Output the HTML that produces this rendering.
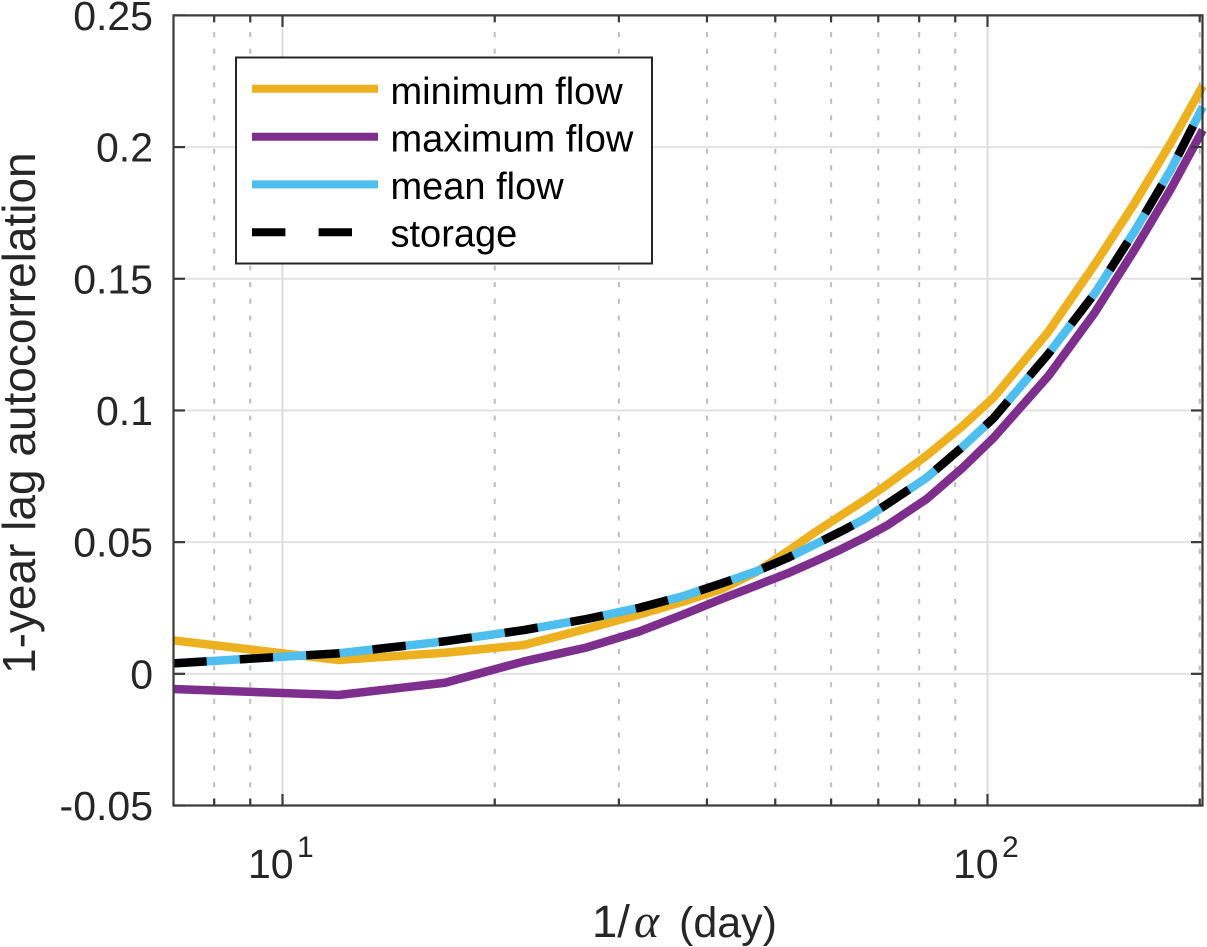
<!DOCTYPE html>
<html>
<head>
<meta charset="utf-8">
<title>1-year lag autocorrelation</title>
<style>
html,body{margin:0;padding:0;background:#fff;width:1207px;height:947px;overflow:hidden}
svg{display:block}
text{font-family:"Liberation Sans",sans-serif}
</style>
</head>
<body>
<svg id="chart" width="1207" height="947" viewBox="0 0 1207 947" xmlns="http://www.w3.org/2000/svg">
  <g id="grid"></g>
  <g id="series"></g>
  <g id="axes"></g>
  <text transform="translate(35,674) rotate(-90)" font-size="46" fill="#262626">1-year lag autocorrelation</text>
  <text y="937" font-size="45.5" fill="#262626"><tspan x="592">1/</tspan><tspan x="634" font-family="Liberation Serif" font-style="italic" font-size="48">α</tspan><tspan x="679" font-size="43">(day)</tspan></text>
  <g>
    <rect x="236" y="57.5" width="416" height="206" fill="#fff" stroke="#262626" stroke-width="2"/>
    <g>
      <line x1="252" x2="378" y1="88.7" y2="88.7" stroke="#EDB120" stroke-width="8"/>
      <text x="390.5" y="104" font-size="38" fill="#000">minimum flow</text>
    </g>
    <g>
      <line x1="252" x2="378" y1="136.7" y2="136.7" stroke="#7E2F8E" stroke-width="8"/>
      <text x="390.5" y="151.7" font-size="38" fill="#000">maximum flow</text>
    </g>
    <g>
      <line x1="252" x2="378" y1="184.4" y2="184.4" stroke="#4DBEEE" stroke-width="8"/>
      <text x="390.5" y="199" font-size="38" fill="#000">mean flow</text>
    </g>
    <g>
      <line x1="252" x2="378" y1="232.3" y2="232.3" stroke="#000" stroke-width="8" stroke-dasharray="33.4 33.2"/>
      <text x="390.5" y="246.5" font-size="38" fill="#000">storage</text>
    </g>
  </g>
</svg>
<script>
const days = [7,12,17,22,27,32,37,42,47,52,57,62,67,72,82,92,102,122,142,162,182,202];
const minimumFlow = [0.01272,0.00524,0.00800,0.01093,0.01712,0.02248,0.02737,0.0322,0.03865,0.04644,0.05384,0.06018,0.0660,0.0718,0.0829,0.0939,0.1049,0.1299,0.1555,0.1791,0.2016,0.2232];
const maximumFlow = [-0.00577,-0.00805,-0.00338,0.0047,0.0100,0.0160,0.0225,0.0285,0.0335,0.0381,0.0428,0.0473,0.0518,0.0563,0.0664,0.0780,0.0896,0.1131,0.1372,0.1614,0.1841,0.2065];
const meanFlow = [0.00395,0.00778,0.01234,0.01663,0.0208,0.0250,0.0295,0.03436,0.03892,0.04397,0.0492,0.0541,0.0589,0.0644,0.0745,0.0860,0.0971,0.1215,0.1445,0.1684,0.1914,0.2153];
const storage = [0.00395,0.00778,0.01234,0.01663,0.0208,0.0250,0.0295,0.03436,0.03892,0.04397,0.0492,0.0541,0.0589,0.0644,0.0745,0.0860,0.0971,0.1215,0.1445,0.1684,0.1914,0.2153];
const yTicks = [-0.05,0,0.05,0.1,0.15,0.2,0.25];
const yTickLabels = ["-0.05","0","0.05","0.1","0.15","0.2","0.25"];
const xMajorTicks = [10,100];
const xMajorExponents = ["1","2"];
const xMinorTicks = [8,9,20,30,40,50,60,70,80,90,200];

const NS = "http://www.w3.org/2000/svg";
const L = 173.5, R = 1202.5, T = 15.4, B = 805.5;
const xMin = 7, xMax = 202, yMin = -0.05, yMax = 0.25;
const AXIS = "#3a3a3a";
function sx(v){ return 282.5 + 705 * (Math.log10(v) - 1); }
function sy(v){ return B - (v - yMin) / (yMax - yMin) * (B - T); }
function mk(tag, attrs, parent){
  const e = document.createElementNS(NS, tag);
  for (const k in attrs) e.setAttribute(k, attrs[k]);
  parent.appendChild(e);
  return e;
}
const grid = document.getElementById("grid");
const axes = document.getElementById("axes");
const seriesGroup = document.getElementById("series");

yTicks.forEach(function(v){
  if (v === yMin || v === yMax) return;
  const g = mk("line", {x1:L, x2:R, y1:sy(v), y2:sy(v), stroke:"#e2e2e2", "stroke-width":2}, grid);
  
  
});
xMajorTicks.forEach(function(v){
  const g = mk("line", {x1:sx(v), x2:sx(v), y1:T, y2:B, stroke:"#dedede", "stroke-width":2}, grid);
  
  
});
xMinorTicks.forEach(function(v){
  const g = mk("line", {x1:sx(v), x2:sx(v), y1:T, y2:B, stroke:"#bdbdbd", "stroke-width":2, "stroke-dasharray":"5 11.67"}, grid);
  
  
});

function linePath(values){
  return days.map(function(d, i){
    return (i ? "L" : "M") + sx(d).toFixed(2) + " " + sy(values[i]).toFixed(2);
  }).join(" ");
}
const seriesDefs = [
  {values:minimumFlow, color:"#EDB120", dash:"", name:"line-minimum-flow"},
  {values:maximumFlow, color:"#7E2F8E", dash:"", name:"line-maximum-flow"},
  {values:meanFlow, color:"#4DBEEE", dash:"", name:"line-mean-flow"},
  {values:storage, color:"#000000", dash:"33.4 33.2", name:"line-storage"}
];
seriesDefs.forEach(function(s){
  const p = mk("path", {d:linePath(s.values), fill:"none", stroke:s.color, "stroke-width":8.5, "stroke-linejoin":"round"}, seriesGroup);
  if (s.dash) p.setAttribute("stroke-dasharray", s.dash);
  
  
});

const frame = mk("rect", {x:L, y:T, width:R-L, height:B-T, fill:"none", stroke:AXIS, "stroke-width":2.2}, axes);



yTicks.forEach(function(v, i){
  const y = sy(v);
  const a = mk("line", {x1:L, x2:L+11.5, y1:y, y2:y, stroke:AXIS, "stroke-width":2.2}, axes);
  
  
  const b = mk("line", {x1:R-11.5, x2:R, y1:y, y2:y, stroke:AXIS, "stroke-width":2.2}, axes);
  
  
  const t = mk("text", {x:153, y:y+14.5, "text-anchor":"end", "font-size":41, fill:"#262626"}, axes);
  t.textContent = yTickLabels[i];
  
  
});
xMajorTicks.forEach(function(v, i){
  const x = sx(v);
  const a = mk("line", {x1:x, x2:x, y1:B, y2:B-11.5, stroke:AXIS, "stroke-width":2.2}, axes);
  
  
  const b = mk("line", {x1:x, x2:x, y1:T, y2:T+11.5, stroke:AXIS, "stroke-width":2.2}, axes);
  
  
  const t = mk("text", {x:x-34.5, y:878, "font-size":41, fill:"#262626"}, axes);
  t.textContent = "10";
  
  
  const e = mk("text", {x:x+14.5, y:857, "font-size":30, fill:"#262626"}, axes);
  e.textContent = xMajorExponents[i];
  
  
});
xMinorTicks.forEach(function(v){
  const x = sx(v);
  const a = mk("line", {x1:x, x2:x, y1:B, y2:B-7, stroke:AXIS, "stroke-width":2.2}, axes);
  
  
  const b = mk("line", {x1:x, x2:x, y1:T, y2:T+7, stroke:AXIS, "stroke-width":2.2}, axes);
  
  
});
</script>
</body>
</html>
